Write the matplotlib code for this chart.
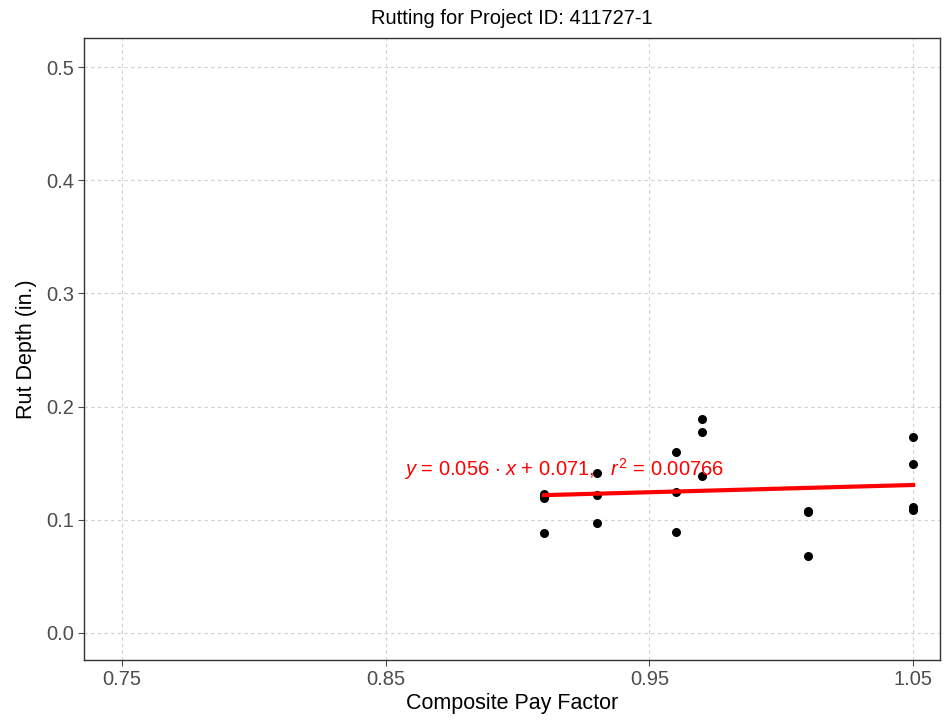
import numpy as np
import matplotlib
matplotlib.use("Agg")
import matplotlib.pyplot as plt

plt.rcParams['font.family'] = ['Liberation Sans', 'DejaVu Sans']
plt.rcParams['mathtext.fontset'] = 'custom'
plt.rcParams['mathtext.it'] = 'Liberation Sans:italic'
plt.rcParams['mathtext.rm'] = 'Liberation Sans'

# composite pay factor vs rut depth
pay_factor = [0.91, 0.91, 0.91, 0.91,
              0.93, 0.93, 0.93,
              0.96, 0.96, 0.96,
              0.97, 0.97, 0.97,
              1.01, 1.01, 1.01,
              1.05, 1.05, 1.05, 1.05]
rut_depth = [0.123, 0.121, 0.119, 0.088,
             0.141, 0.122, 0.097,
             0.160, 0.125, 0.089,
             0.189, 0.178, 0.139,
             0.108, 0.107, 0.068,
             0.173, 0.149, 0.111, 0.109]

x_ticks = [0.75, 0.85, 0.95, 1.05]
y_ticks = [0.0, 0.1, 0.2, 0.3, 0.4, 0.5]

fig = plt.figure(figsize=(9.45, 7.21), dpi=100)
ax = fig.add_axes([0.0889, 0.0846, 0.9058, 0.8624])

ax.scatter(pay_factor, rut_depth, s=30, color='black', zorder=3)

slope, inter = np.polyfit(pay_factor, rut_depth, 1)
xs = np.array([min(pay_factor), max(pay_factor)])
ax.plot(xs, slope * xs + inter, color='red', lw=3, zorder=4)

ax.text(0.857, 0.145,
        r'$y$ = 0.056 $\cdot$ $x$ + 0.071,$\quad r^2$ = 0.00766',
        color='red', fontsize=14.5, va='center', ha='left', zorder=5)

ax.set_xlim(0.7356, 1.0602)
ax.set_ylim(-0.0239, 0.5256)
ax.set_xticks(x_ticks)
ax.set_xticklabels(['0.75', '0.85', '0.95', '1.05'])
ax.set_yticks(y_ticks)
ax.set_yticklabels(['0.0', '0.1', '0.2', '0.3', '0.4', '0.5'])
ax.grid(True, color='#d0d0d0', linestyle=(0, (3, 3)), lw=0.8)
ax.set_axisbelow(True)
for sp in ax.spines.values():
    sp.set_color('#333333')
    sp.set_linewidth(1.0)
ax.tick_params(colors='#4d4d4d', labelsize=14.5, length=4, width=0.8, pad=3)

ax.set_xlabel('Composite Pay Factor', fontsize=15.5, labelpad=3)
ax.set_ylabel('Rut Depth (in.)', fontsize=15.5, labelpad=7)
ax.set_title('Rutting for Project ID: 411727-1', fontsize=14.5, pad=10)

fig.savefig('out.png', dpi=100)
